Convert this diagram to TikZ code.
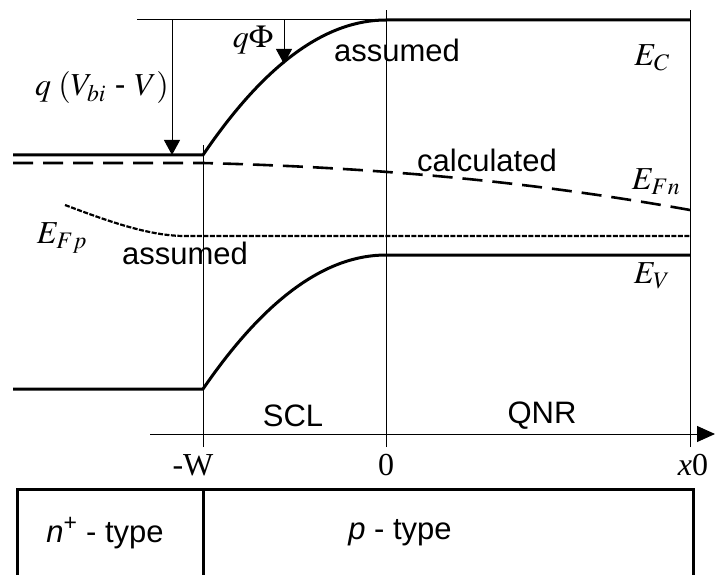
\documentclass[tikz,border=0pt]{standalone}
\usepackage{mathptmx}
\usepackage{fontspec}
\setmainfont{Liberation Sans}
\newfontfamily\tmsfont{Liberation Serif}
\usetikzlibrary{arrows.meta}

\begin{document}
\begin{tikzpicture}[x=1pt, y=-1pt,
  font=\fontsize{31}{36}\selectfont,
  band/.style={line width=3pt},
  guide/.style={line width=1pt},
  fnline/.style={line width=2.6pt, dash pattern=on 20pt off 10pt},
  fpline/.style={line width=2.2pt, dash pattern=on 5pt off 1.5pt},
  drop/.style={line width=1pt, -{Triangle[width=16pt,length=15pt]}},
  lbl/.style={inner sep=0pt},
  mlbl/.style={inner sep=0pt, font=\fontsize{32}{38}\selectfont},
  ticklbl/.style={inner sep=0pt, font=\tmsfont\fontsize{32}{38}\selectfont}]
\useasboundingbox (0,0) rectangle (715,575);
% key positions
\coordinate (mW) at (203,447);
\coordinate (zero) at (386,447);
\coordinate (xend) at (690,447);
\coordinate (vtop) at (172,20);
\coordinate (vbot) at (172,155);
\coordinate (ptop) at (284,20);
\coordinate (pbot) at (284,64);
% guides
\draw[guide] (137,20) -- (690,20);
\draw[guide] (mW) -- (203,145);
\draw[guide] (zero) -- (386,10);
\draw[guide] (xend) -- (690,10);
\draw[guide, -{Triangle[width=16pt,length=18pt]}] (150,434) coordinate (ax0) -- (715,434) coordinate (ax1);
% bands
\draw[band] (13,155) -- (203,155) .. controls (264,65) and (325,20) .. (386,20) -- (690,20);
\draw[band] (13,389) -- (203,389) .. controls (264,300) and (325,255) .. (386,255) -- (690,255);
% quasi-Fermi levels
\draw[fnline] (13,163) -- (203,163) .. controls (400,168) and (550,185) .. (690,210);
\draw[fpline] (65,205) .. controls (110,222) and (150,236) .. (185,236) -- (690,236);
% potential drops
\draw[drop] (vtop) -- (vbot);
\draw[drop] (ptop) -- (pbot);
\node[mlbl] (vbi) at (102,88) {$q\;(V_{bi}$ - $V)$};
\node[mlbl] (phi) at (253,40) {$q\Phi$};
\node[mlbl] (ec) at (652,58) {$E_C$};
\node[mlbl] (efn) at (656,182) {$E_{Fn}$};
\node[mlbl] (efp) at (62,238) {$E_{Fp}$};
\node[mlbl] (ev) at (652,276) {$E_V$};
\node[lbl] (asmC) at (397,50) {assumed};
\node[lbl] (calc) at (487,160) {calculated};
\node[lbl] (asmV) at (185,253) {assumed};
% regions and axis labels
\node[lbl] (scl) at (293,416) {SCL};
\node[lbl] (qnr) at (542,416) {QNR};
\node[ticklbl] (lW) at (193,465) {-W};
\node[ticklbl] (l0) at (386,465) {0};
\node[ticklbl] (lx) at (693,465) {\textit{x}0};
% device
\draw[band] (17,580) -- (17,489) -- (693,489) -- (693,580);
\draw[band] (203,489) -- (203,580);
\node[lbl] (ntype) at (105,533) {\textit{n}\textsuperscript{+} - type};
\node[lbl] (ptype) at (400,533) {\textit{p} - type};
\end{tikzpicture}
\end{document}
